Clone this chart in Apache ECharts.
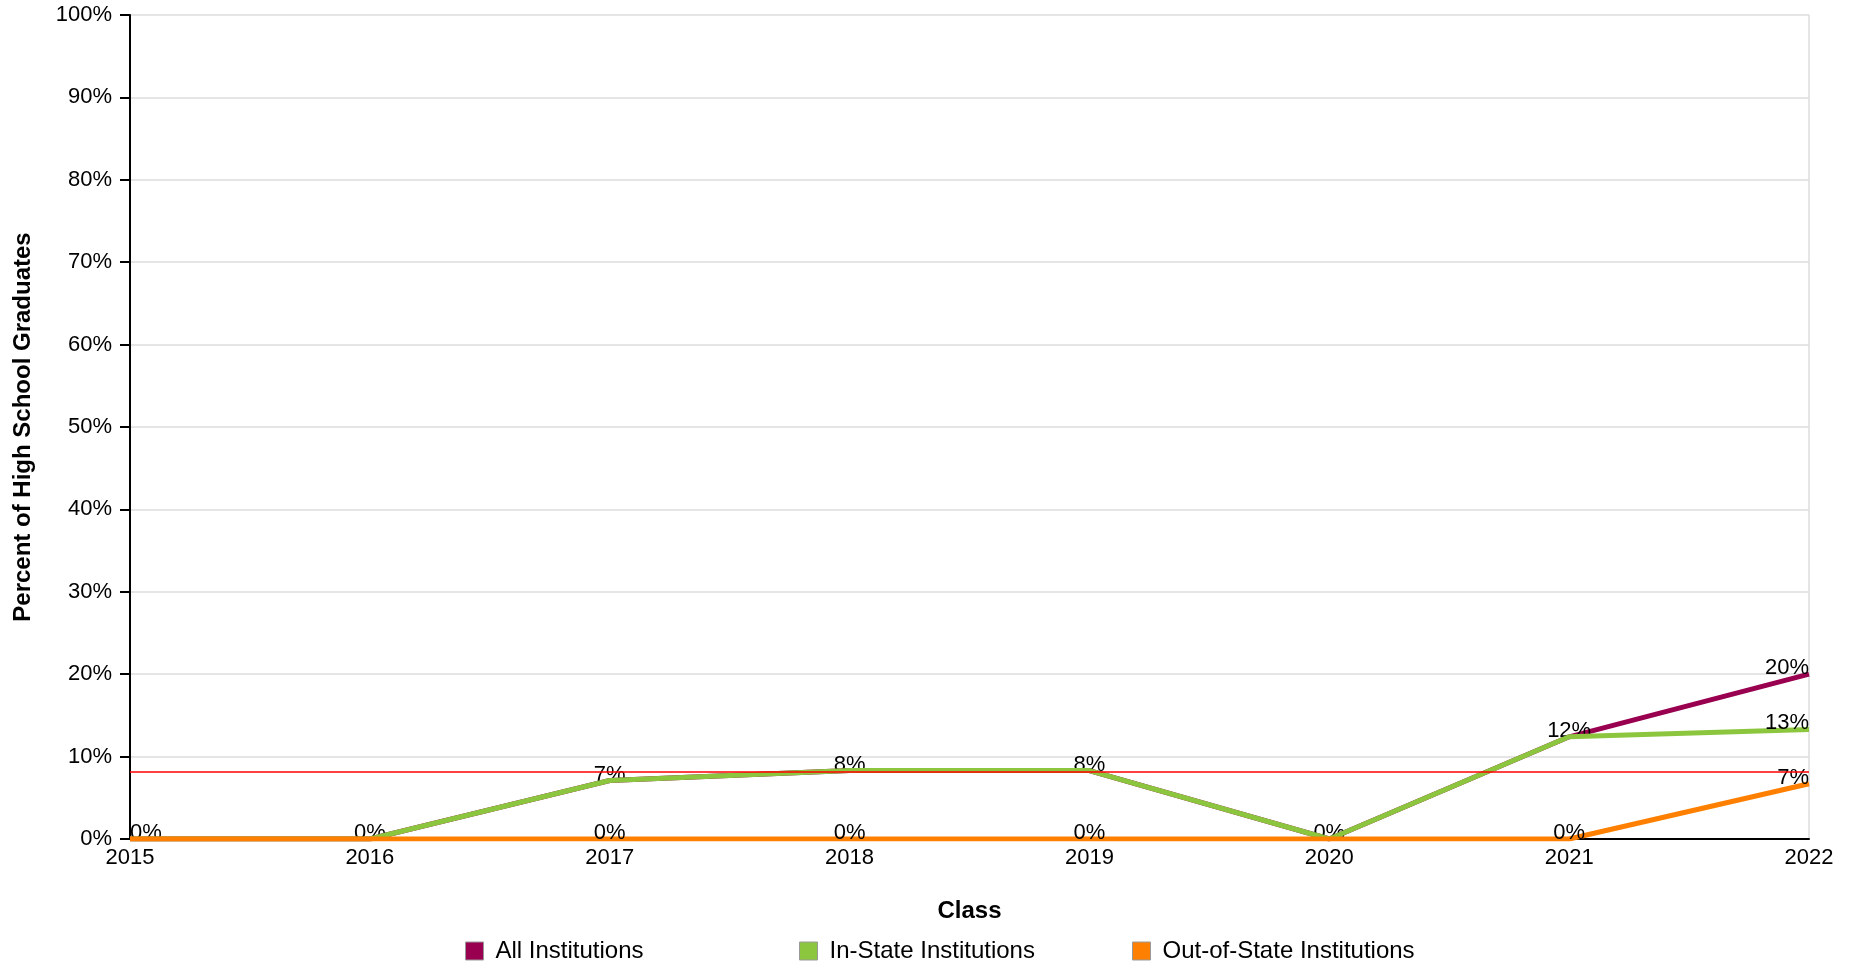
<!DOCTYPE html>
<html>
<head>
<meta charset="utf-8">
<script src="https://cdn.jsdelivr.net/npm/echarts@6/dist/echarts.min.js"></script>
<style>
html,body{margin:0;padding:0;background:#fff;}
#c{width:1858px;height:964px;}
</style>
</head>
<body>
<div id="c"></div>
<script>
const categories = ['2015','2016','2017','2018','2019','2020','2021','2022'];
const allInstitutions = [0, 0, 7.1, 8.3, 8.3, 0, 12.4, 20.0];
const inStateInstitutions = [0, 0, 7.1, 8.3, 8.3, 0, 12.4, 13.3];
const outOfStateInstitutions = [0, 0, 0, 0, 0, 0, 0, 6.7];
const referenceLine = 8.2;
const yTicks = [0,10,20,30,40,50,60,70,80,90,100];
const seriesNames = ['All Institutions','In-State Institutions','Out-of-State Institutions'];
const seriesColors = ['#990050','#8cc63f','#ff8000'];
const legendLefts = [465, 799, 1132];

const font = 'Liberation Sans, Arial, Helvetica, sans-serif';

function toData(arr){
  return arr.map((v,i)=>{
    const item = {value: v};
    if(i===0) item.label = {align:'left', offset:[3,0]};
    if(i===arr.length-1) item.label = {align:'right', offset:[0,0]};
    return item;
  });
}

const valuesList = [allInstitutions, inStateInstitutions, outOfStateInstitutions];
const series = valuesList.map((vals, k)=>({
  name: seriesNames[k],
  type: 'line',
  data: toData(vals),
  symbol: 'circle',
  symbolSize: 0,
  showSymbol: true,
  lineStyle: {width: 5, color: seriesColors[k]},
  itemStyle: {color: seriesColors[k]},
  label: {
    show: true, position: 'top', distance: -5,
    formatter: p => Math.round(p.value) + '%',
    color: '#000', fontSize: 22, fontFamily: font
  },
  labelLayout: {hideOverlap: true},
  emphasis: {disabled: true},
  z: 2 + k
}));
series[2].markLine = {
  silent: true, symbol: 'none', label: {show: false},
  lineStyle: {color: '#ff0000', width: 1.5, type: 'solid'},
  data: [{yAxis: referenceLine}]
};

const legends = seriesNames.map((n,k)=>({
  data: [n], left: legendLefts[k], top: 939, orient: 'horizontal', padding: 0,
  icon: 'rect', itemWidth: 18, itemHeight: 18, itemGap: 0,
  itemStyle: {borderColor: '#999', borderWidth: 1},
  textStyle: {fontSize: 24, color: '#000', fontFamily: font, padding:[0,0,0,7]},
  selectedMode: false
}));

const chart = echarts.init(document.getElementById('c'));
chart.setOption({
  animation: false,
  backgroundColor: '#fff',
  grid: {left: 130, right: 49, top: 15, bottom: 125, containLabel: false},
  legend: legends,
  xAxis: {
    type: 'category', data: categories, boundaryGap: false,
    name: 'Class', nameLocation: 'middle', nameGap: 60,
    nameTextStyle: {fontSize: 24, fontWeight: 'bold', color: '#000', fontFamily: font},
    axisLine: {show: true, lineStyle: {color: '#000', width: 2}},
    axisTick: {show: false},
    axisLabel: {fontSize: 22, color: '#000', fontFamily: font, margin: 8},
    splitLine: {show: true, interval: (i)=> i === categories.length-1, lineStyle: {color: '#dddddd', width: 1.5}}
  },
  yAxis: {
    type: 'value', min: yTicks[0], max: yTicks[yTicks.length-1], interval: 10,
    name: 'Percent of High School Graduates', nameLocation: 'middle', nameGap: 95,
    nameTextStyle: {fontSize: 24, fontWeight: 'bold', color: '#000', fontFamily: font},
    axisLine: {show: true, lineStyle: {color: '#000', width: 2}},
    axisTick: {show: true, length: 10, lineStyle: {color: '#000', width: 2}},
    axisLabel: {fontSize: 22, color: '#000', fontFamily: font, margin: 18, formatter: v => v + '%'},
    splitLine: {show: true, lineStyle: {color: '#dddddd', width: 1.5}}
  },
  series: series
});
</script>
</body>
</html>
